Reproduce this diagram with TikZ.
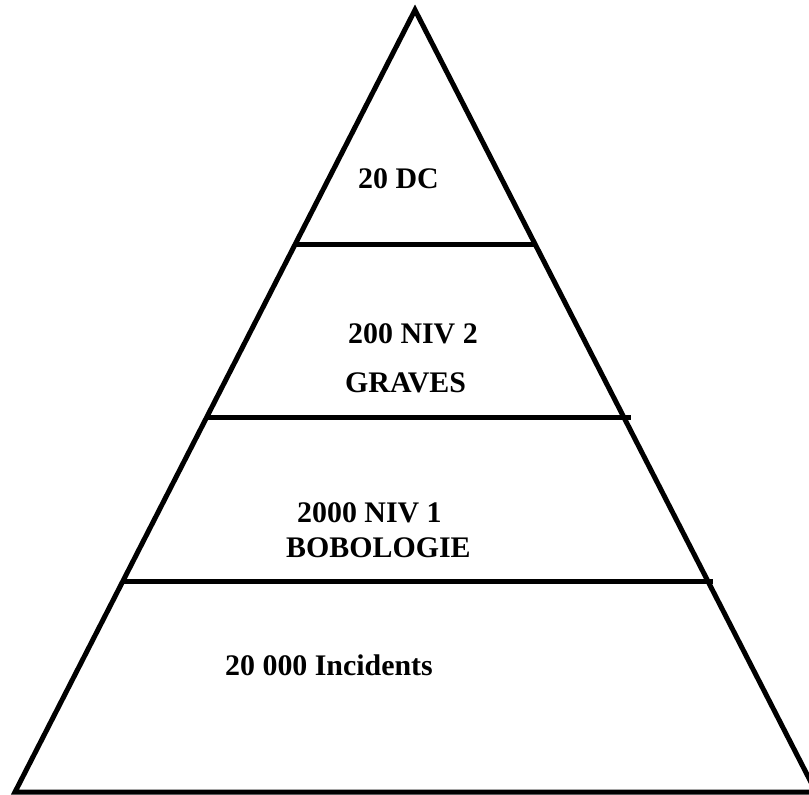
\documentclass[tikz,border=0pt]{standalone}
\usepackage{fontspec}
\setmainfont{Liberation Serif}
\begin{document}
\begin{tikzpicture}[x=1bp,y=-1bp,
  edge/.style={line width=5bp,line join=miter,line cap=butt},
  level/.style={line width=5bp},
  lbl/.style={anchor=base west,inner sep=0pt,font=\fontsize{30}{36}\selectfont\bfseries}]
\useasboundingbox (0,0) rectangle (809,795);
\clip (0,0) rectangle (809,795);
\fill[white] (0,0) rectangle (809,795);
\coordinate (apex) at (415,10);
\coordinate (bl) at (15,792);
\coordinate (br) at (816,792);
\draw[edge] (bl) -- (apex) -- (br) -- cycle;
\coordinate (l1a) at (295,244); \coordinate (l1b) at (535,244);
\coordinate (l2a) at (208,417); \coordinate (l2b) at (631,417);
\coordinate (l3a) at (124,581); \coordinate (l3b) at (713,581);
\draw[level] (l1a) -- (l1b);
\draw[level] (l2a) -- (l2b);
\draw[level] (l3a) -- (l3b);
\node[lbl] (dc) at (358,188) {20 DC};
\node[lbl] (niv2) at (348,343) {200 NIV 2};
\node[lbl] (graves) at (345,392) {GRAVES};
\node[lbl] (niv1) at (297,522) {2000 NIV 1};
\node[lbl] (bobo) at (286,557) {BOBOLOGIE};
\node[lbl] (inc) at (225,675) {20 000 Incidents};
\end{tikzpicture}
\end{document}
